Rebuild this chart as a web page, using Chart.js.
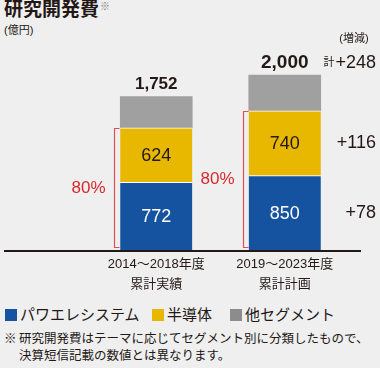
<!DOCTYPE html>
<html lang="ja">
<head>
<meta charset="utf-8">
<script src="https://cdn.jsdelivr.net/npm/chart.js@4.4.1/dist/chart.umd.min.js"></script>
<style>
  html, body { margin: 0; padding: 0; }
  body {
    width: 380px; height: 368px; background: #efefef; position: relative; overflow: hidden;
    font-family: "Liberation Sans", "Noto Sans CJK JP", sans-serif; color: #231815;
  }
  #chart { position: absolute; left: 0; top: 0; }
  .title { position: absolute; left: 4px; top: 0; font-size: 19px; line-height: 20px; font-weight: bold; white-space: nowrap; }
  .title sup { font-size: 10px; font-weight: normal; color: #777; vertical-align: top; position: relative; top: -3px; margin-left: 1px; }
  .unit { position: absolute; left: 4px; top: 23px; font-size: 11px; line-height: 14px; }
  .legend { position: absolute; top: 306px; left: 0; width: 380px; height: 18px; font-size: 15px; line-height: 18px; }
  .legend span { position: absolute; top: 0; white-space: nowrap; }
  .legend i { position: absolute; top: 3px; width: 12px; height: 12px; }
  .note { position: absolute; left: 4px; top: 331px; font-size: 12.5px; line-height: 17px; white-space: nowrap; }
  .note .mark { position: absolute; left: 0; top: 0; }
  .note .body { margin-left: 15px; }
</style>
</head>
<body>
<div class="title">研究開発費<sup>※</sup></div>
<div class="unit">(億円)</div>
<canvas id="chart" width="380" height="300"></canvas>
<div class="legend">
  <i style="left:5px;background:#1553a0"></i><span style="left:20px">パワエレシステム</span>
  <i style="left:152px;background:#e8b700"></i><span style="left:167px">半導体</span>
  <i style="left:230px;background:#8c8c8c"></i><span style="left:245px">他セグメント</span>
</div>
<div class="note"><span class="mark">※</span><div class="body">研究開発費はテーマに応じてセグメント別に分類したもので、<br>決算短信記載の数値とは異なります。</div></div>
<script>
// data (億円)
const categories = [['2014〜2018年度', '累計実績'], ['2019〜2023年度', '累計計画']];
const powerElectronics = [772, 850];
const semiconductor = [624, 740];
const otherSegments = [356, 410];

const textColor = '#231815';
const red = '#d7282f';
const font = '"Liberation Sans", "Noto Sans CJK JP", sans-serif';

const totals = categories.map((c, i) => powerElectronics[i] + semiconductor[i] + otherSegments[i]);

// labels, brackets, axis line and the change column
const annotations = {
  id: 'annotations',
  afterDatasetsDraw(chart) {
    const ctx = chart.ctx;
    const base = chart.scales.y.getPixelForValue(0);
    const blue = chart.getDatasetMeta(0).data;
    const yellow = chart.getDatasetMeta(1).data;
    const gray = chart.getDatasetMeta(2).data;
    ctx.save();

    ctx.fillStyle = textColor;
    ctx.fillRect(4, base, 357, 2);

    ctx.textAlign = 'center';
    ctx.textBaseline = 'middle';
    ctx.font = '18px ' + font;
    blue.forEach((el, i) => {
      ctx.fillStyle = '#ffffff';
      ctx.fillText(powerElectronics[i], el.x, (el.y + el.base) / 2 + 1);
    });
    yellow.forEach((el, i) => {
      ctx.fillStyle = textColor;
      ctx.fillText(semiconductor[i], el.x, (el.y + el.base) / 2 + 1);
    });

    const totalSizes = [17, 19];
    gray.forEach((el, i) => {
      ctx.fillStyle = textColor;
      ctx.font = 'bold ' + totalSizes[i] + 'px ' + font;
      ctx.fillText(totals[i].toLocaleString('en-US'), el.x, el.y - 12);
    });

    // red brackets with share of power electronics + semiconductor
    yellow.forEach((el, i) => {
      const bx = Math.round(el.x - el.width / 2) - 6 + 0.5;
      const top = Math.round(el.y) + 0.5;
      const bottom = base - 2.5;
      ctx.strokeStyle = '#e0505a';
      ctx.lineWidth = 1.2;
      ctx.beginPath();
      ctx.moveTo(bx + 5, top);
      ctx.lineTo(bx, top);
      ctx.lineTo(bx, bottom);
      ctx.lineTo(bx + 5, bottom);
      ctx.stroke();
      const share = Math.round((powerElectronics[i] + semiconductor[i]) / totals[i] * 100);
      ctx.fillStyle = red;
      ctx.font = '17px ' + font;
      ctx.fillText(share + '%', bx - 26, (top + bottom) / 2);
    });

    // change column (plan vs actual)
    const right = 376;
    const sign = v => (v >= 0 ? '+' : '') + v;
    ctx.textAlign = 'right';
    ctx.fillStyle = textColor;
    ctx.font = '18px ' + font;
    ctx.fillText(sign(semiconductor[1] - semiconductor[0]), right, (yellow[1].y + yellow[1].base) / 2);
    ctx.fillText(sign(powerElectronics[1] - powerElectronics[0]), right, (blue[1].y + blue[1].base) / 2);
    const totalChange = sign(totals[1] - totals[0]);
    const ty = gray[1].y - 12;
    ctx.fillText(totalChange, right, ty);
    const w = ctx.measureText(totalChange).width;
    ctx.font = '11px ' + font;
    ctx.fillText('計', right - w - 1, ty);
    ctx.textAlign = 'center';
    ctx.fillText('(増減)', 354, 39);

    ctx.restore();
  }
};

new Chart(document.getElementById('chart'), {
  type: 'bar',
  data: {
    labels: categories,
    datasets: [
      { label: 'パワエレシステム', data: powerElectronics, backgroundColor: '#1553a0',
        borderColor: '#ffffff', borderWidth: { top: 1, left: 0, right: 0, bottom: 0 }, borderSkipped: false },
      { label: '半導体', data: semiconductor, backgroundColor: '#e8b700',
        borderColor: '#ffffff', borderWidth: { top: 1, left: 0, right: 0, bottom: 0 }, borderSkipped: false },
      { label: '他セグメント', data: otherSegments, backgroundColor: '#a0a0a0', borderWidth: 0 }
    ]
  },
  options: {
    responsive: false,
    animation: false,
    layout: { padding: { left: 92, right: 31, top: 40, bottom: 0 } },
    datasets: { bar: { barThickness: 72 } },
    plugins: { legend: { display: false }, tooltip: { enabled: false } },
    scales: {
      x: {
        stacked: true,
        grid: { display: false, drawTicks: false },
        border: { display: false },
        ticks: { color: textColor, padding: 4, font: { family: font, size: 13, lineHeight: 1.55 } },
        afterFit(scale) { scale.height = 50; }
      },
      y: { stacked: true, display: false, min: 0, max: 2400 }
    }
  },
  plugins: [annotations]
});
</script>
</body>
</html>
